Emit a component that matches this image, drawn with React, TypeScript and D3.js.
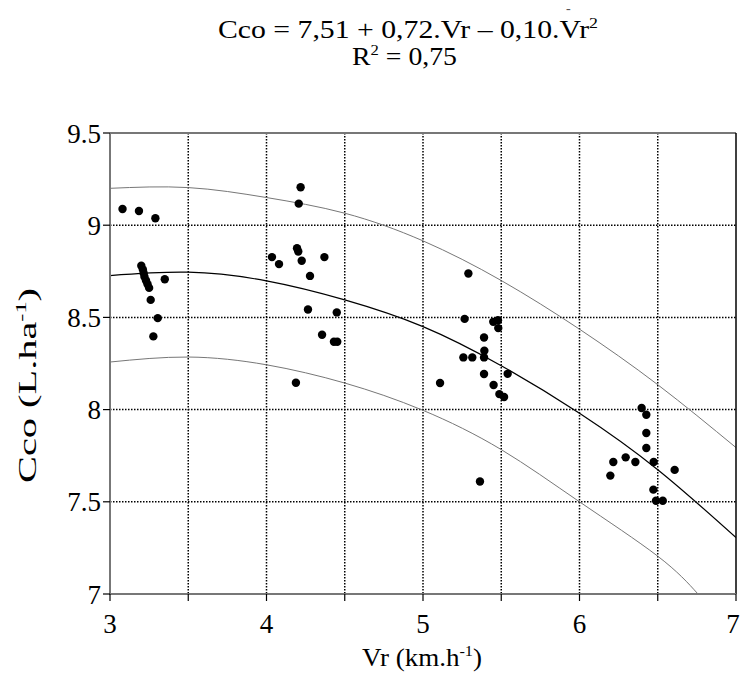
import React from "react";
import * as d3 from "d3";

// observed data (Vr in km/h, Cco in L/ha)
const vr = [
  3.08, 3.185, 3.29, 3.2, 3.21, 3.215, 3.22, 3.23, 3.24, 3.25, 3.35, 3.26, 3.305, 3.277,
  4.218, 4.206, 4.195, 4.203, 4.035, 4.08, 4.225, 4.37, 4.278, 4.265, 4.449, 4.355, 4.431, 4.452, 4.188,
  5.29, 5.266, 5.449, 5.479, 5.481, 5.39, 5.392, 5.258, 5.315, 5.39, 5.39, 5.541, 5.109, 5.451, 5.488, 5.518, 5.364,
  6.397, 6.427, 6.427, 6.427, 6.216, 6.295, 6.357, 6.474, 6.608, 6.197, 6.472, 6.489, 6.532,
];
const cco = [
  9.088, 9.077, 9.038, 8.78, 8.76, 8.74, 8.72, 8.70, 8.68, 8.66, 8.707, 8.595, 8.496, 8.397,
  9.206, 9.117, 8.875, 8.857, 8.827, 8.789, 8.807, 8.827, 8.725, 8.543, 8.527, 8.406, 8.368, 8.368, 8.146,
  8.738, 8.492, 8.476, 8.485, 8.442, 8.391, 8.319, 8.283, 8.283, 8.283, 8.193, 8.194, 8.144, 8.133, 8.084, 8.068, 7.61,
  8.009, 7.972, 7.873, 7.792, 7.716, 7.741, 7.716, 7.716, 7.673, 7.642, 7.566, 7.506, 7.506,
];

// fitted curve and band
const fitX = [3, 3.5, 4, 4.5, 5, 5.5, 6, 6.5, 7];
const fitY = [8.727, 8.745, 8.698, 8.595, 8.45, 8.238, 7.98, 7.674, 7.306];
const upperY = [9.2, 9.204, 9.15, 9.065, 8.915, 8.7, 8.436, 8.135, 7.794];
const lowerX = [3, 3.5, 4, 4.5, 5, 5.5, 6, 6.5, 6.757];
const lowerY = [8.258, 8.285, 8.243, 8.144, 7.996, 7.783, 7.5, 7.205, 7.0];

const xTicks = [3, 4, 5, 6, 7];
const yTicks = [7, 7.5, 8, 8.5, 9, 9.5];
const xGrid = [3.5, 4, 4.5, 5, 5.5, 6, 6.5];
const yGrid = [7.5, 8, 8.5, 9];
const xMinor = [3, 3.5, 4, 4.5, 5, 5.5, 6, 6.5, 7];

const W = 740;
const H = 673;
const left = 110, right = 736, top = 133, bottom = 594;
const font = "'Liberation Serif', serif";

export default function App() {
  const x = d3.scaleLinear().domain([3, 7]).range([left, right]);
  const y = d3.scaleLinear().domain([7, 9.5]).range([bottom, top]);

  const line = d3
    .line<[number, number]>()
    .x((d) => x(d[0]))
    .y((d) => y(d[1]))
    .curve(d3.curveNatural);

  const fit = line(fitX.map((v, i) => [v, fitY[i]]));
  const upper = line(fitX.map((v, i) => [v, upperY[i]]));
  const lower = line(lowerX.map((v, i) => [v, lowerY[i]]));

  return (
    <div style={{ position: "absolute", left: 0, top: 0 }}>
      <svg width={W} height={H} style={{ display: "block", background: "#fff", fontFamily: font }}>
        <defs>
          <clipPath id="plot">
            <rect x={left} y={top} width={right - left} height={bottom - top} />
          </clipPath>
        </defs>

        {/* title */}
        <text x={566} y={13} fontSize={14} fill="#555">-</text>
        <text x={218} y={38} fontSize={25} fill="#000"
          textLength={380} lengthAdjust="spacingAndGlyphs">
          Cco = 7,51 + 0,72.Vr – 0,10.Vr<tspan dy={-10} fontSize={15}>2</tspan>
        </text>
        <text x={352} y={65} fontSize={25} fill="#000"
          textLength={105} lengthAdjust="spacingAndGlyphs">
          R<tspan dy={-10} fontSize={15}>2</tspan><tspan dy={10}> = 0,75</tspan>
        </text>

        {/* grid */}
        {xGrid.map((g) => (
          <line key={"gx" + g} x1={x(g)} x2={x(g)} y1={top} y2={bottom}
            stroke="#000" strokeWidth={1.5} strokeDasharray="1.5,1.5" />
        ))}
        {yGrid.map((g) => (
          <line key={"gy" + g} x1={left} x2={right} y1={y(g)} y2={y(g)}
            stroke="#000" strokeWidth={1.5} strokeDasharray="1.5,1.5" />
        ))}

        {/* curves */}
        <g clipPath="url(#plot)" fill="none">
          <path d={upper ?? ""} stroke="#777" strokeWidth={1} />
          <path d={lower ?? ""} stroke="#777" strokeWidth={1} />
          <path d={fit ?? ""} stroke="#000" strokeWidth={1.2} />
        </g>

        {/* frame */}
        <line x1={left} x2={right} y1={top} y2={top} stroke="#777" strokeWidth={2} />
        <line x1={right} x2={right} y1={top} y2={bottom} stroke="#000" strokeWidth={1.5} />
        <line x1={left} x2={left} y1={top} y2={bottom + 1} stroke="#777" strokeWidth={2} />
        <line x1={left - 1} x2={right} y1={bottom} y2={bottom} stroke="#777" strokeWidth={2} />

        {/* ticks */}
        {xMinor.map((t) => (
          <line key={"tx" + t} x1={x(t)} x2={x(t)} y1={bottom} y2={bottom + 7} stroke="#000" strokeWidth={1.2} />
        ))}
        {yTicks.map((t) => (
          <line key={"ty" + t} x1={left - 7} x2={left} y1={y(t)} y2={y(t)} stroke="#000" strokeWidth={1.2} />
        ))}
        {xTicks.map((t) => (
          <text key={"lx" + t} x={Math.min(x(t), 733)} y={633} fontSize={27} textAnchor="middle">{String(t)}</text>
        ))}
        {yTicks.map((t) => (
          <text key={"ly" + t} x={left - 9} y={y(t) + 9.5} fontSize={27} textAnchor="end">{String(t)}</text>
        ))}

        {/* axis titles */}
        <text x={362} y={666} fontSize={25} textLength={120} lengthAdjust="spacingAndGlyphs">
          Vr (km.h<tspan dy={-10} fontSize={15}>-1</tspan><tspan dy={10}>)</tspan>
        </text>
        <text transform="translate(36, 483) rotate(-90)" fontSize={25}
          textLength={195} lengthAdjust="spacingAndGlyphs">
          Cco (L.ha<tspan dy={-10} fontSize={15}>-1</tspan><tspan dy={10}>)</tspan>
        </text>

        {/* points */}
        {vr.map((v, i) => (
          <circle key={"p" + i} cx={x(v)} cy={y(cco[i])} r={4.2} fill="#000" />
        ))}
      </svg>
    </div>
  );
}
